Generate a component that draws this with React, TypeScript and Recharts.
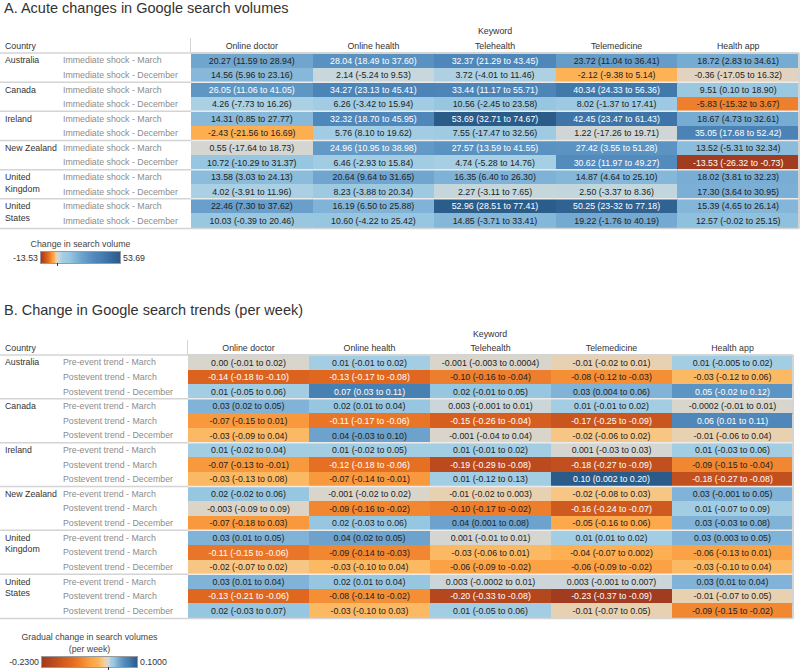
import { BarChart, Bar, XAxis, YAxis } from "recharts";

const keywords = ["Online doctor", "Online health", "Telehealth", "Telemedicine", "Health app"];
const countries = ["Australia", "Canada", "Ireland", "New Zealand", "United Kingdom", "United States"];
const shockLabels = ["Immediate shock - March", "Immediate shock - December"];
const trendLabels = ["Pre-event trend - March", "Postevent trend - March", "Postevent trend - December"];

// A. acute change, rows = country x shock
const acuteOnlineDoctor = [
  "20.27 (11.59 to 28.94)", "14.56 (5.96 to 23.16)",
  "26.05 (11.06 to 41.05)", "4.26 (-7.73 to 16.26)",
  "14.31 (0.85 to 27.77)", "-2.43 (-21.56 to 16.69)",
  "0.55 (-17.64 to 18.73)", "10.72 (-10.29 to 31.37)",
  "13.58 (3.03 to 24.13)", "4.02 (-3.91 to 11.96)",
  "22.46 (7.30 to 37.62)", "10.03 (-0.39 to 20.46)",
];
const acuteOnlineHealth = [
  "28.04 (18.49 to 37.60)", "2.14 (-5.24 to 9.53)",
  "34.27 (23.13 to 45.41)", "6.26 (-3.42 to 15.94)",
  "32.32 (18.70 to 45.95)", "5.76 (8.10 to 19.62)",
  "24.96 (10.95 to 38.98)", "6.46 (-2.93 to 15.84)",
  "20.64 (9.64 to 31.65)", "8.23 (-3.88 to 20.34)",
  "16.19 (6.50 to 25.88)", "10.60 (-4.22 to 25.42)",
];
const acuteTelehealth = [
  "32.37 (21.29 to 43.45)", "3.72 (-4.01 to 11.46)",
  "33.44 (11.17 to 55.71)", "10.56 (-2.45 to 23.58)",
  "53.69 (32.71 to 74.67)", "7.55 (-17.47 to 32.56)",
  "27.57 (13.59 to 41.55)", "4.74 (-5.28 to 14.76)",
  "16.35 (6.40 to 26.30)", "2.27 (-3.11 to 7.65)",
  "52.96 (28.51 to 77.41)", "14.85 (-3.71 to 33.41)",
];
const acuteTelemedicine = [
  "23.72 (11.04 to 36.41)", "-2.12 (-9.38 to 5.14)",
  "40.34 (24.33 to 56.36)", "8.02 (-1.37 to 17.41)",
  "42.45 (23.47 to 61.43)", "1.22 (-17.26 to 19.71)",
  "27.42 (3.55 to 51.28)", "30.62 (11.97 to 49.27)",
  "14.87 (4.64 to 25.10)", "2.50 (-3.37 to 8.36)",
  "50.25 (23-32 to 77.18)", "19.22 (-1.76 to 40.19)",
];
const acuteHealthApp = [
  "18.72 (2.83 to 34.61)", "-0.36 (-17.05 to 16.32)",
  "9.51 (0.10 to 18.90)", "-5.83 (-15.32 to 3.67)",
  "18.67 (4.73 to 32.61)", "35.05 (17.68 to 52.42)",
  "13.52 (-5.31 to 32.34)", "-13.53 (-26.32 to -0.73)",
  "18.02 (3.81 to 32.23)", "17.30 (3.64 to 30.95)",
  "15.39 (4.65 to 26.14)", "12.57 (-0.02 to 25.15)",
];

// B. weekly trend, rows = country x trend
const trendOnlineDoctor = [
  "0.00 (-0.01 to 0.02)", "-0.14 (-0.18 to -0.10)", "0.01 (-0.05 to 0.06)",
  "0.03 (0.02 to 0.05)", "-0.07 (-0.15 to 0.01)", "-0.03 (-0.09 to 0.04)",
  "0.01 (-0.02 to 0.04)", "-0.07 (-0.13 to -0.01)", "-0.03 (-0.13 to 0.08)",
  "0.02 (-0.02 to 0.06)", "-0.003 (-0.09 to 0.09)", "-0.07 (-0.18 to 0.03)",
  "0.03 (0.01 to 0.05)", "-0.11 (-0.15 to -0.06)", "-0.02 (-0.07 to 0.02)",
  "0.03 (0.01 to 0.04)", "-0.13 (-0.21 to -0.06)", "0.02 (-0.03 to 0.07)",
];
const trendOnlineHealth = [
  "0.01 (-0.01 to 0.02)", "-0.13 (-0.17 to -0.08)", "0.07 (0.03 to 0.11)",
  "0.02 (0.01 to 0.04)", "-0.11 (-0.17 to -0.06)", "0.04 (-0.03 to 0.10)",
  "0.01 (-0.02 to 0.05)", "-0.12 (-0.18 to -0.06)", "-0.07 (-0.14 to -0.01)",
  "-0.001 (-0.02 to 0.02)", "-0.09 (-0.16 to -0.02)", "0.02 (-0.03 to 0.06)",
  "0.04 (0.02 to 0.05)", "-0.09 (-0.14 to -0.03)", "-0.03 (-0.10 to 0.04)",
  "0.02 (0.01 to 0.04)", "-0.08 (-0.14 to -0.02)", "-0.03 (-0.10 to 0.03)",
];
const trendTelehealth = [
  "-0.001 (-0.003 to 0.0004)", "-0.10 (-0.16 to -0.04)", "0.02 (-0.01 to 0.05)",
  "0.003 (-0.001 to 0.01)", "-0.15 (-0.26 to -0.04)", "-0.001 (-0.04 to 0.04)",
  "0.01 (-0.01 to 0.02)", "-0.19 (-0.29 to -0.08)", "0.01 (-0.12 to 0.13)",
  "-0.01 (-0.02 to 0.003)", "-0.10 (-0.17 to -0.02)", "0.04 (0.001 to 0.08)",
  "0.001 (-0.01 to 0.01)", "-0.03 (-0.06 to 0.01)", "-0.06 (-0.09 to -0.02)",
  "0.003 (-0.0002 to 0.01)", "-0.20 (-0.33 to -0.08)", "0.01 (-0.05 to 0.06)",
];
const trendTelemedicine = [
  "-0.01 (-0.02 to 0.01)", "-0.08 (-0.12 to -0.03)", "0.03 (0.004 to 0.06)",
  "0.01 (-0.01 to 0.02)", "-0.17 (-0.25 to -0.09)", "-0.02 (-0.06 to 0.02)",
  "0.001 (-0.03 to 0.03)", "-0.18 (-0.27 to -0.09)", "0.10 (0.002 to 0.20)",
  "-0.02 (-0.08 to 0.03)", "-0.16 (-0.24 to -0.07)", "-0.05 (-0.16 to 0.06)",
  "0.01 (0.01 to 0.02)", "-0.04 (-0.07 to 0.002)", "-0.06 (-0.09 to -0.02)",
  "0.003 (-0.001 to 0.007)", "-0.23 (-0.37 to -0.09)", "-0.01 (-0.07 to 0.05)",
];
const trendHealthApp = [
  "0.01 (-0.005 to 0.02)", "-0.03 (-0.12 to 0.06)", "0.05 (-0.02 to 0.12)",
  "-0.0002 (-0.01 to 0.01)", "0.06 (0.01 to 0.11)", "-0.01 (-0.06 to 0.04)",
  "0.01 (-0.03 to 0.06)", "-0.09 (-0.15 to -0.04)", "-0.18 (-0.27 to -0.08)",
  "0.03 (-0.001 to 0.05)", "0.01 (-0.07 to 0.09)", "0.03 (-0.03 to 0.08)",
  "0.03 (0.003 to 0.05)", "-0.06 (-0.13 to 0.01)", "-0.03 (-0.10 to 0.04)",
  "0.03 (0.01 to 0.04)", "-0.01 (-0.07 to 0.05)", "-0.09 (-0.15 to -0.02)",
];

const acuteRange = [-13.53, 53.69];
const trendRange = [-0.23, 0.1];

// orange-blue diverging palette, t = share of the way to min / max
const NEG: [number, string][] = [
  [0, "#d8d5cd"], [0.03, "#e2d3bd"], [0.06, "#efcfa3"], [0.1, "#fbc276"],
  [0.16, "#fdb153"], [0.27, "#faa144"], [0.35, "#f58f35"], [0.45, "#ec7b2b"],
  [0.56, "#e1681f"], [0.66, "#d55e1f"], [0.77, "#c4511f"], [0.88, "#b3461f"], [1, "#a13c20"],
];
const POS: [number, string][] = [
  [0, "#d8d5cd"], [0.02, "#d2d6d4"], [0.045, "#c4d7dd"], [0.07, "#acd1e3"],
  [0.1, "#a3cde3"], [0.2, "#97c6e0"], [0.3, "#80b3d7"], [0.4, "#6ca2cc"],
  [0.5, "#5c94c3"], [0.6, "#4f87ba"], [0.7, "#4780b2"], [0.85, "#386c9f"], [1, "#2a5b89"],
];

const FONT = '"Liberation Sans", Arial, sans-serif';
const BODY = 8.8;

const hex = (h: string) => [1, 3, 5].map((i) => parseInt(h.slice(i, i + 2), 16));

function interp(stops: [number, string][], t: number) {
  const tt = Math.max(0, Math.min(1, t));
  for (let i = 1; i < stops.length; i++) {
    if (tt <= stops[i][0]) {
      const [t0, c0] = stops[i - 1];
      const [t1, c1] = stops[i];
      const f = (tt - t0) / (t1 - t0);
      const a = hex(c0);
      const b = hex(c1);
      return `rgb(${a.map((v, k) => Math.round(v + (b[k] - v) * f)).join(",")})`;
    }
  }
  return stops[stops.length - 1][1];
}

const share = (v: number, range: number[]) => (v < 0 ? v / range[0] : v / range[1]);
const colorFor = (v: number, range: number[]) =>
  v < 0 ? interp(NEG, share(v, range)) : interp(POS, share(v, range));

function gradient(range: number[]) {
  const span = range[1] - range[0];
  const stops: string[] = [];
  [...NEG].reverse().forEach(([t, c]) => {
    stops.push(`${c} ${((-t * -range[0] - range[0]) / span) * 100}%`);
  });
  POS.forEach(([t, c]) => {
    stops.push(`${c} ${((-range[0] + t * range[1]) / span) * 100}%`);
  });
  return `linear-gradient(to right, ${stops.join(", ")})`;
}

function buildRows(labels: string[], cols: string[][]) {
  const rows: any[] = [];
  countries.forEach((country, ci) => {
    labels.forEach((label, li) => {
      const idx = ci * labels.length + li;
      const row: any = { key: `${country}|${label}`, country, label, sub: li, idx };
      cols.forEach((col, k) => {
        row[`c${k}`] = 1;
        row[`t${k}`] = col[idx];
      });
      rows.push(row);
    });
  });
  return rows;
}

const acuteRows = buildRows(shockLabels, [
  acuteOnlineDoctor, acuteOnlineHealth, acuteTelehealth, acuteTelemedicine, acuteHealthApp,
]);
const trendRows = buildRows(trendLabels, [
  trendOnlineDoctor, trendOnlineHealth, trendTelehealth, trendTelemedicine, trendHealthApp,
]);

const LINE = "#d4d4d4";

const makeCell = (col: number, range: number[], rowCount: number) => (props: any) => {
  const { x, y, width, height, payload } = props;
  const text: string = payload[`t${col}`];
  const v = parseFloat(text);
  const light = Math.abs(share(v, range)) > 0.45;
  const idx = payload.idx;
  const last = col === keywords.length - 1;
  return (
    <g>
      <rect x={x} y={y} width={width} height={height} fill={colorFor(v, range)} shapeRendering="crispEdges" />
      <text
        x={x + width / 2}
        y={y + height / 2}
        dy="0.35em"
        textAnchor="middle"
        fontSize={BODY}
        fill={light ? "#ffffff" : "#222222"}
      >
        {text}
      </text>
      {payload.sub === 0 && idx > 0 && (
        <line x1={x} x2={x + width} y1={y} y2={y} stroke="#ebebeb" strokeWidth={1.5} />
      )}
      {col === 0 && payload.sub === 0 && (
        <line x1={0} x2={x} y1={y} y2={y} stroke={LINE} strokeWidth={1.5} />
      )}
      {col === 0 && idx === 0 && <line x1={x - 0.5} x2={x - 0.5} y1={y - 15} y2={y} stroke={LINE} />}
      {idx === 0 && <line x1={x} x2={x + width} y1={y} y2={y} stroke={LINE} strokeWidth={2} />}
      {last && <line x1={x + width} x2={x + width} y1={y} y2={y + height} stroke={LINE} strokeWidth={2} />}
      {idx === rowCount - 1 && (
        <line x1={col === 0 ? 0 : x} x2={x + width} y1={y + height} y2={y + height} stroke={LINE} strokeWidth={1.5} />
      )}
    </g>
  );
};

const makeRowTick = (rows: any[]) => (props: any) => {
  const { y, payload } = props;
  const row = rows.find((r) => r.key === payload.value);
  if (!row) return null;
  const lines = row.sub === 0 ? (row.country.length > 11 ? row.country.split(" ") : [row.country]) : [];
  return (
    <g>
      <text x={63} y={y} dy="0.35em" fontSize={BODY} fill="#8c8c8c">
        {row.label}
      </text>
      {lines.map((l: string, i: number) => (
        <text key={l} x={5} y={y + i * 11.5} dy="0.35em" fontSize={BODY} fill="#333333">
          {l}
        </text>
      ))}
    </g>
  );
};

const HeaderTick = (props: any) => {
  const { x, y, payload } = props;
  return (
    <text x={x} y={y} textAnchor="middle" fontSize={BODY} fill="#333333">
      {keywords[Math.floor(payload.value)]}
    </text>
  );
};

function HeatTable({ rows, range, top, height, axisWidth, marginTop, marginRight }: any) {
  return (
    <div style={{ position: "absolute", left: 0, top }}>
      <BarChart
        width={800}
        height={height}
        data={rows}
        layout="vertical"
        barCategoryGap={0}
        barGap={0}
        margin={{ top: marginTop, right: marginRight, bottom: 4, left: 0 }}
      >
        <XAxis
          type="number"
          orientation="top"
          domain={[0, keywords.length]}
          ticks={keywords.map((_, i) => i + 0.5)}
          height={23}
          tickSize={0}
          tickMargin={4}
          axisLine={false}
          tickLine={false}
          tick={<HeaderTick />}
        />
        <YAxis
          type="category"
          dataKey="key"
          width={axisWidth}
          axisLine={false}
          tickLine={false}
          interval={0}
          tick={makeRowTick(rows)}
        />
        {keywords.map((k, i) => (
          <Bar
            key={k}
            dataKey={`c${i}`}
            stackId="cells"
            isAnimationActive={false}
            shape={makeCell(i, range, rows.length)}
          />
        ))}
      </BarChart>
    </div>
  );
}

function ColorLegend({ title, range, digits, left, top, width, height }: any) {
  const zero = (-range[0] / (range[1] - range[0])) * width;
  return (
    <>
      <div
        style={{
          position: "absolute",
          left: left - 60,
          width: width + 120,
          top: top - 12 * title.length - 2,
          textAlign: "center",
          fontSize: BODY,
          lineHeight: "12px",
          color: "#444",
        }}
      >
        {title.map((t: string) => (
          <div key={t}>{t}</div>
        ))}
      </div>
      <div
        style={{
          position: "absolute",
          right: 800 - left + 3,
          top: top + height / 2 - 6,
          fontSize: BODY,
          lineHeight: "12px",
          color: "#333",
        }}
      >
        {range[0].toFixed(digits)}
      </div>
      <div
        style={{
          position: "absolute",
          left,
          top,
          width,
          height,
          background: gradient(range),
          outline: "1px solid #9a9a9a",
        }}
      />
      <div style={{ position: "absolute", left: left + zero, top: top + height, width: 1, height: 3, background: "#333" }} />
      <div
        style={{
          position: "absolute",
          left: left + width + 3,
          top: top + height / 2 - 6,
          fontSize: BODY,
          lineHeight: "12px",
          color: "#333",
        }}
      >
        {range[1].toFixed(digits)}
      </div>
    </>
  );
}

const label = (text: string, left: number, top: number, extra: any = {}) => (
  <div style={{ position: "absolute", left, top, fontSize: BODY, lineHeight: "12px", color: "#333", ...extra }}>
    {text}
  </div>
);

export default function App() {
  return (
    <div
      style={{
        position: "absolute",
        left: 0,
        top: 0,
        width: 800,
        height: 672,
        background: "#fff",
        fontFamily: FONT,
        overflow: "hidden",
      }}
    >
      <div style={{ position: "absolute", left: 4, top: 0, fontSize: 14.5, color: "#333" }}>
        A. Acute changes in Google search volumes
      </div>
      {label("Keyword", 445, 25, { width: 100, textAlign: "center" })}
      {label("Country", 5, 40)}
      <HeatTable rows={acuteRows} range={acuteRange} top={0} height={232} axisWidth={191} marginTop={30} marginRight={1} />
      <ColorLegend
        title={["Change in search volume"]}
        range={acuteRange}
        digits={2}
        left={41}
        top={252}
        width={79}
        height={11}
      />

      <div style={{ position: "absolute", left: 4, top: 302, fontSize: 14.5, color: "#333" }}>
        B. Change in Google search trends (per week)
      </div>
      {label("Keyword", 440, 328, { width: 100, textAlign: "center" })}
      {label("Country", 5, 342)}
      <HeatTable rows={trendRows} range={trendRange} top={300} height={322} axisWidth={188} marginTop={32} marginRight={7} />
      <ColorLegend
        title={["Gradual change in search volumes", "(per week)"]}
        range={trendRange}
        digits={4}
        left={42}
        top={657}
        width={95}
        height={10}
      />
    </div>
  );
}
